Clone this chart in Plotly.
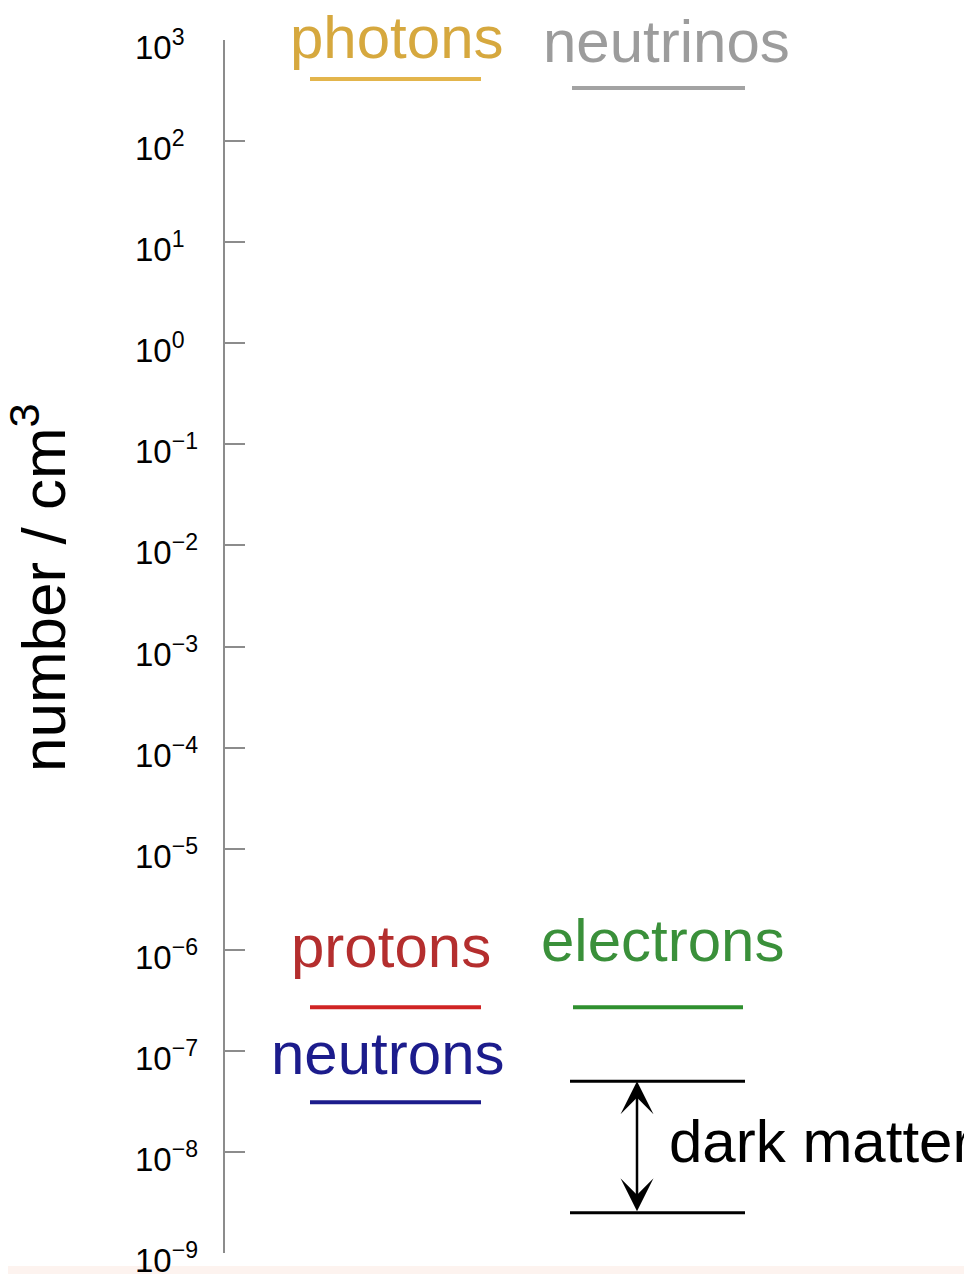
import numpy as np
import plotly.graph_objects as go

# ---------------- data ----------------
species = ["photons", "neutrinos", "protons", "electrons", "neutrons"]
densities = [411, 336, 2.7e-7, 2.7e-7, 3.1e-8]          # number / cm^3
dark_matter_range = [5e-8, 2.5e-9]                       # upper, lower bound
tick_exponents = [3, 2, 1, 0, -1, -2, -3, -4, -5, -6, -7, -8, -9]

# ---------------- style / layout ----------------
PAGE_W, PAGE_H = 972, 1274
BODY = 8                      # browser default body margin
W, H = PAGE_W - BODY, PAGE_H - BODY
AX_X, TOP_Y, BOT_Y = 225, 40, 1253     # page pixels of axis line, 1e3 and 1e-9
ML, MR, MT = AX_X - BODY, 0, TOP_Y - BODY
MB = H - (BOT_Y - BODY)
FONT = "Liberation Sans, Arial, Helvetica, sans-serif"
LABEL_SIZE = 60

line_colors = {"photons": "#E3B54C", "neutrinos": "#A3A3A3", "protons": "#D02424",
               "electrons": "#2F902F", "neutrons": "#1C1C8C"}
text_colors = {"photons": "#D6A83E", "neutrinos": "#9C9C9C", "protons": "#B42E2E",
               "electrons": "#3A903A", "neutrons": "#1C1C8C"}
# column spans (x axis range == page pixel columns)
col_span = {"photons": (310, 481), "neutrinos": (572, 745), "protons": (310, 481),
            "electrons": (573, 743), "neutrons": (310, 481)}
text_x = {"photons": 397, "neutrinos": 666, "protons": 391, "electrons": 662, "neutrons": 388}
text_shift = {"photons": 42, "neutrinos": 46, "protons": 61, "electrons": 67, "neutrons": 49}
dm_span = (570, 745)
arrow_x = 637

plot_w = PAGE_W - AX_X - MR
plot_h = BOT_Y - TOP_Y


def px_x(p):
    return (p - AX_X) / plot_w


def px_y(p):
    return (BOT_Y - p) / plot_h


fig = go.Figure()

for name, val in zip(species, densities):
    x0, x1 = col_span[name]
    fig.add_trace(go.Scatter(x=[x0, x1], y=[val, val], mode="lines",
                             line=dict(color=line_colors[name], width=4),
                             showlegend=False, hoverinfo="skip", cliponaxis=False))
    fig.add_annotation(x=text_x[name], y=np.log10(val), xref="x", yref="y",
                       text=name, showarrow=False, xanchor="center", yanchor="middle",
                       yshift=text_shift[name],
                       font=dict(family=FONT, size=LABEL_SIZE, color=text_colors[name]))

# dark matter bounds
for val in dark_matter_range:
    fig.add_trace(go.Scatter(x=list(dm_span), y=[val, val], mode="lines",
                             line=dict(color="black", width=3),
                             showlegend=False, hoverinfo="skip", cliponaxis=False))

# double arrow
fig.add_annotation(x=arrow_x, y=np.log10(dark_matter_range[0]),
                   ax=arrow_x, ay=np.log10(dark_matter_range[1]),
                   xref="x", yref="y", axref="x", ayref="y",
                   text="", showarrow=True, arrowhead=3, startarrowhead=3,
                   arrowside="end+start", arrowsize=2.2, startarrowsize=2.2,
                   arrowwidth=2.5, arrowcolor="black", standoff=0, startstandoff=0)

dm_mid = (np.log10(dark_matter_range[0]) + np.log10(dark_matter_range[1])) / 2
fig.add_annotation(x=667, y=dm_mid, xref="x", yref="y", text="dark matter",
                   showarrow=False, xanchor="left", yanchor="middle", yshift=6,
                   font=dict(family=FONT, size=LABEL_SIZE, color="black"))

# tick labels (left aligned like the reference)
for e in tick_exponents:
    lab = f"10<sup>{e}</sup>" if e >= 0 else f"10<sup>\u2212{abs(e)}</sup>"
    fig.add_annotation(x=px_x(133), xref="paper", y=e, yref="y",
                       text=lab, showarrow=False, xanchor="left", yanchor="middle",
                       yshift=-5, font=dict(family=FONT, size=33, color="black"))

# y axis title
fig.add_annotation(x=px_x(39), xref="paper", y=px_y(588), yref="paper",
                   text="number / cm<sup>3</sup>", textangle=-90, showarrow=False,
                   xanchor="center", yanchor="middle",
                   font=dict(family=FONT, size=62, color="black"))

# bottom strip (from the reference image frame)
fig.add_shape(type="rect", xref="paper", yref="paper",
              x0=px_x(BODY), x1=1, y0=px_y(PAGE_H), y1=px_y(1266),
              fillcolor="#FDF3EF", line=dict(width=0), layer="above")

fig.update_layout(
    width=W, height=H,
    margin=dict(l=ML, r=MR, t=MT, b=MB, pad=0),
    paper_bgcolor="white", plot_bgcolor="white",
    showlegend=False,
    xaxis=dict(range=[AX_X, PAGE_W - MR], visible=False, showgrid=False, zeroline=False),
    yaxis=dict(type="log", range=[-9, 3],
               tickvals=[10.0 ** e for e in tick_exponents],
               showticklabels=False,
               ticks="inside", ticklen=20, tickwidth=1.5, tickcolor="#8C8C8C",
               showline=True, linecolor="#8C8C8C", linewidth=2,
               showgrid=False, zeroline=False),
)

fig.write_html("out.html")
